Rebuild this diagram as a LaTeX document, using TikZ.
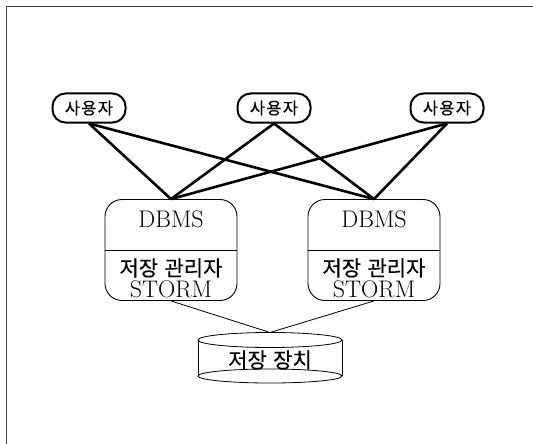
\documentclass[tikz,border=0pt]{standalone}
\usepackage{fontspec}
\newfontfamily\kor[FakeBold=0.4]{Noto Sans CJK KR}
\begin{document}
\begin{tikzpicture}[x=1pt,y=-1pt,
  user/.style={draw,line width=2pt,rounded corners=13pt,minimum width=73pt,minimum height=29pt,inner sep=0pt,font=\kor\fontsize{16.5}{18}\selectfont},
  dbbox/.style={draw,line width=0.9pt,rounded corners=17pt,minimum width=132pt,minimum height=101pt,inner sep=0pt},
  thick link/.style={line width=2.6pt},
  thin link/.style={line width=0.8pt},
  lbl/.style={inner sep=0pt,font=\fontsize{24}{26}\selectfont},
  klbl/.style={inner sep=0pt,font=\kor\fontsize{21}{23}\selectfont}
]
\useasboundingbox (0,0) rectangle (533,444);
% frame
\draw[line width=0.9pt,black!75] (6,444) -- (6,6) -- (533,6);
% users
\node[user] (u1) at (89,108) {사\hspace{0.08em}용\hspace{0.08em}자};
\node[user] (u2) at (274,108) {사\hspace{0.08em}용\hspace{0.08em}자};
\node[user] (u3) at (447,108) {사\hspace{0.08em}용\hspace{0.08em}자};
% dbms boxes
\node[dbbox] (d1) at (171,250) {};
\node[dbbox] (d2) at (374,250) {};
\draw[line width=0.7pt] (d1.west) -- (d1.east);
\draw[line width=0.7pt] (d2.west) -- (d2.east);
\node[lbl] (t1) at (171,219) {DBMS};
\node[lbl] (t2) at (374,219) {DBMS};
\node[klbl] (k1) at (171,268) {저장\hspace{0.3em}관리자};
\node[klbl] (k2) at (374,268) {저장\hspace{0.3em}관리자};
\node[lbl] (s1) at (171,289) {STORM};
\node[lbl] (s2) at (374,289) {STORM};
% connectors users -> dbms
\foreach \u in {u1,u2,u3}{
  \draw[thick link] (\u.south) -- (d1.north);
  \draw[thick link] (\u.south) -- (d2.north);
}
% storage cylinder
\draw[line width=0.8pt] (270,340) ellipse [x radius=72, y radius=7.5];
\draw[line width=0.8pt] (270,376) ellipse [x radius=72, y radius=7];
\draw[line width=0.8pt] (198,340) -- (198,376);
\draw[line width=0.8pt] (342,340) -- (342,376);
\coordinate (cyltop) at (270,332.5);
\node[klbl] (st) at (270,360) {저장\hspace{0.3em}장치};
\draw[thin link] (d1.south) -- (cyltop);
\draw[thin link] (d2.south) -- (cyltop);
\end{tikzpicture}
\end{document}
